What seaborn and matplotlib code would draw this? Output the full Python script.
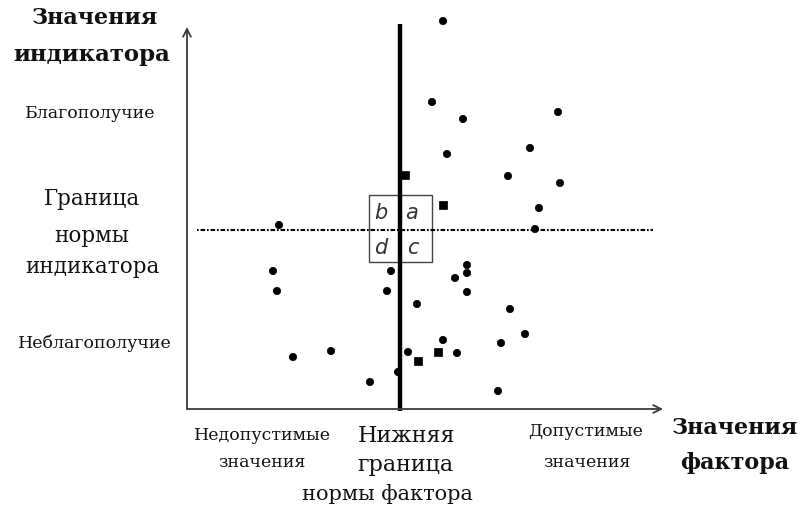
import numpy as np
import pandas as pd
import matplotlib.pyplot as plt
import seaborn as sns
from matplotlib.patches import Rectangle

sns.set_theme(style='white')
plt.rcParams['font.family'] = ['DejaVu Serif', 'Liberation Serif']

# ---- data (factor along x, indicator along y, origin at the axes corner) ----
factor = [256, 245, 276, 371, 260, 343, 218, 321, 373, 256, 352, 92, 348,
          86, 204, 280, 280, 268, 90, 200, 280, 230, 323, 338, 314, 256,
          106, 144, 221, 251, 270, 231, 211, 183, 311]
indicator = [388, 307, 290, 297, 255, 261, 234, 233, 226, 204, 201, 184, 180,
             138, 138, 144, 136, 131, 118, 118, 117, 105, 100, 75, 66, 69,
             52, 58, 57, 57, 56, 48, 37, 27, 18]
shape = ['round'] * 35
for i in (6, 9, 29, 31):
    shape[i] = 'square'

factor_norm = 213      # lower bound of factor norm
indicator_norm = 179   # bound of indicator norm
box_x = [182, 245]
box_y = [147, 214]
x_axis_end = 476
y_axis_end = 382

df = pd.DataFrame({'factor': factor, 'indicator': indicator, 'shape': shape})

fig = plt.figure(figsize=(8.04, 5.11), dpi=100)
ax = fig.add_axes([0, 0, 1, 1])
ax.set_xlim(-187, 617)
ax.set_ylim(-102, 409)
ax.axis('off')

# axes arrows
arrow_kw = dict(arrowstyle='->', color='#3a3a3a', lw=1.3, mutation_scale=14,
                shrinkA=0, shrinkB=0)
ax.annotate('', xy=(x_axis_end, 0), xytext=(0, 0), arrowprops=arrow_kw)
ax.annotate('', xy=(0, y_axis_end), xytext=(0, 0), arrowprops=arrow_kw)

# norm lines
ax.plot([factor_norm, factor_norm], [-2, 385], color='black', lw=3.2, solid_capstyle='butt')
ax.plot([10, 466], [indicator_norm, indicator_norm], color='black', lw=1.5,
        linestyle=(0, (0.8, 0.9, 2.2, 0.9)))

# quadrant box
ax.add_patch(Rectangle((box_x[0], box_y[0]), box_x[1] - box_x[0], box_y[1] - box_y[0],
                       fill=False, edgecolor='#444444', lw=1.0))
for lbl, (qx, qy) in zip('badc', [(194, 196), (225, 196), (194, 161), (226, 161)]):
    ax.text(qx, qy, lbl, fontsize=15, style='italic', ha='center', va='center',
            color='#333333', family=['DejaVu Sans'])

sns.scatterplot(data=df, x='factor', y='indicator', style='shape',
                markers={'round': 'o', 'square': 's'}, color='black', s=28,
                edgecolor='black', linewidth=0.5, legend=False, ax=ax)

# labels
def label(x, y, s, size, bold=False):
    ax.text(x, y, s, fontsize=size, ha='center', va='center',
            fontweight='bold' if bold else 'normal', color='#111111')

label(-92, 391, 'Значения', 16, True)
label(-95, 354, 'индикатора', 16.5, True)
label(-97, 296, 'Благополучие', 12.5)
label(-95, 210, 'Граница', 15.5)
label(-95, 173, 'нормы', 15.5)
label(-95, 142, 'индикатора', 15.5)
label(-92, 66, 'Неблагополучие', 12.5)
label(75, -26, 'Недопустимые', 12.5)
label(75, -53, 'значения', 12.5)
label(220, -27, 'Нижняя', 16)
label(218, -56, 'граница', 16)
label(200, -85, 'нормы фактора', 15)
label(399, -22, 'Допустимые', 12.5)
label(400, -53, 'значения', 12.5)
label(548, -19, 'Значения', 16, True)
label(548, -54, 'фактора', 16, True)

fig.savefig('out.png', dpi=100)
